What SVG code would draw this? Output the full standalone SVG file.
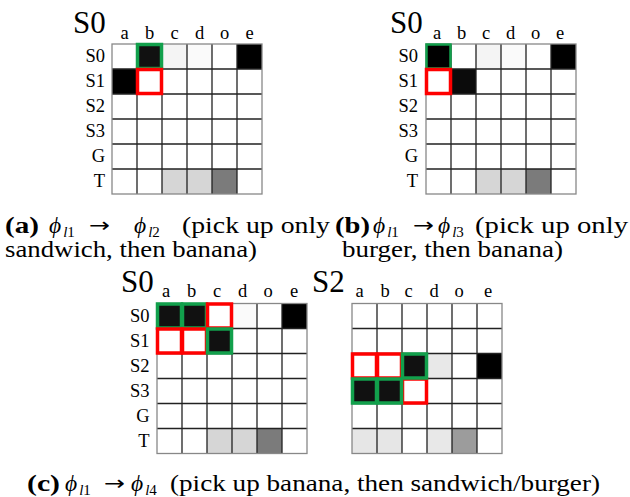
<svg xmlns="http://www.w3.org/2000/svg" xmlns:xlink="http://www.w3.org/1999/xlink" width="630" height="497" viewBox="0 0 630 497">
<style>
text{font-family:"Liberation Serif","DejaVu Serif","Times New Roman",serif;fill:#000}
.big{font-size:31px}
.col{font-size:18.5px;text-anchor:middle}
.row{font-size:18.5px;text-anchor:end}
.cap{font-size:23.5px}
.b{font-weight:bold}
.it{font-style:italic}
.sub{font-size:15px}
.arr{font-family:"DejaVu Sans",sans-serif;font-size:20px}
.gl{fill:none;stroke:#222;stroke-width:1.3}
.go{fill:none;stroke:#888;stroke-width:1.3}
.bg{fill:#fff}
.hg{fill:none;stroke:#12a04c;stroke-width:3.5}
.hr{fill:none;stroke:#ff0000;stroke-width:3.5}
</style>
<defs>
<g id="grid">
<path class="gl" d="M25 0V150M50 0V150M75 0V150M100 0V150M125 0V150M0 25H150M0 50H150M0 75H150M0 100H150M0 125H150"/>
<rect class="go" x="0" y="0" width="150" height="150"/>
</g>
</defs>
<rect width="630" height="497" fill="#fff"/>

<g id="panel-a">
<rect class="bg" x="112" y="44" width="150" height="150"/>
<rect x="137" y="44" width="25" height="25" fill="#111"/>
<rect x="162" y="44" width="25" height="25" fill="#f4f4f4"/>
<rect x="187" y="44" width="25" height="25" fill="#fafafa"/>
<rect x="237" y="44" width="25" height="25" fill="#000"/>
<rect x="112" y="69" width="25" height="25" fill="#000"/>
<rect x="162" y="169" width="25" height="25" fill="#d6d6d6"/>
<rect x="187" y="169" width="25" height="25" fill="#d6d6d6"/>
<rect x="212" y="169" width="25" height="25" fill="#7b7b7b"/>
<use xlink:href="#grid" x="112" y="44"/>
<rect class="hg" x="137.5" y="44.5" width="24" height="24"/>
<rect class="hr" x="137.5" y="69.5" width="24" height="24"/>
<text class="big" x="73" y="33">S0</text>
<text class="col" x="124.5" y="38.5">a</text>
<text class="col" x="149.5" y="38.5">b</text>
<text class="col" x="174.5" y="38.5">c</text>
<text class="col" x="199.5" y="38.5">d</text>
<text class="col" x="224.5" y="38.5">o</text>
<text class="col" x="249.5" y="38.5">e</text>
<text class="row" x="105" y="62">S0</text>
<text class="row" x="105" y="87">S1</text>
<text class="row" x="105" y="112">S2</text>
<text class="row" x="105" y="137">S3</text>
<text class="row" x="105" y="162">G</text>
<text class="row" x="105" y="187">T</text>
</g>

<g id="panel-b">
<rect class="bg" x="426" y="44" width="150" height="150"/>
<rect x="426" y="44" width="25" height="25" fill="#000"/>
<rect x="476" y="44" width="25" height="25" fill="#f4f4f4"/>
<rect x="501" y="44" width="25" height="25" fill="#fafafa"/>
<rect x="551" y="44" width="25" height="25" fill="#000"/>
<rect x="451" y="69" width="25" height="25" fill="#0b0b0b"/>
<rect x="476" y="169" width="25" height="25" fill="#d6d6d6"/>
<rect x="501" y="169" width="25" height="25" fill="#d6d6d6"/>
<rect x="526" y="169" width="25" height="25" fill="#7b7b7b"/>
<use xlink:href="#grid" x="426" y="44"/>
<rect class="hg" x="426.5" y="44.5" width="24" height="24" style="stroke-width:2.5"/>
<rect class="hr" x="426.5" y="69.5" width="24" height="24"/>
<text class="big" x="390" y="33">S0</text>
<text class="col" x="437" y="38.5">a</text>
<text class="col" x="461.5" y="38.5">b</text>
<text class="col" x="486" y="38.5">c</text>
<text class="col" x="510.5" y="38.5">d</text>
<text class="col" x="535.5" y="38.5">o</text>
<text class="col" x="560" y="38.5">e</text>
<text class="row" x="418" y="62">S0</text>
<text class="row" x="418" y="87">S1</text>
<text class="row" x="418" y="112">S2</text>
<text class="row" x="418" y="137">S3</text>
<text class="row" x="418" y="162">G</text>
<text class="row" x="418" y="187">T</text>
</g>

<g id="panel-c1">
<rect class="bg" x="157" y="303.5" width="150" height="150"/>
<rect x="157" y="303.5" width="25" height="25" fill="#111"/>
<rect x="182" y="303.5" width="25" height="25" fill="#111"/>
<rect x="232" y="303.5" width="25" height="25" fill="#fafafa"/>
<rect x="282" y="303.5" width="25" height="25" fill="#000"/>
<rect x="207" y="328.5" width="25" height="25" fill="#111"/>
<rect x="207" y="428.5" width="25" height="25" fill="#d6d6d6"/>
<rect x="232" y="428.5" width="25" height="25" fill="#d6d6d6"/>
<rect x="257" y="428.5" width="25" height="25" fill="#7b7b7b"/>
<use xlink:href="#grid" x="157" y="303.5"/>
<rect class="hg" x="157.5" y="304" width="24" height="24"/>
<rect class="hg" x="182.5" y="304" width="24" height="24"/>
<rect class="hr" x="207.5" y="304" width="24" height="24"/>
<rect class="hr" x="157.5" y="329" width="24" height="24"/>
<rect class="hr" x="182.5" y="329" width="24" height="24"/>
<rect class="hg" x="207.5" y="329" width="24" height="24"/>
<text class="big" x="121" y="292">S0</text>
<text class="col" x="166" y="297">a</text>
<text class="col" x="191.5" y="297">b</text>
<text class="col" x="217" y="297">c</text>
<text class="col" x="242.5" y="297">d</text>
<text class="col" x="268" y="297">o</text>
<text class="col" x="294" y="297">e</text>
<text class="row" x="149.5" y="321.5">S0</text>
<text class="row" x="149.5" y="346.5">S1</text>
<text class="row" x="149.5" y="371.5">S2</text>
<text class="row" x="149.5" y="396.5">S3</text>
<text class="row" x="149.5" y="421.5">G</text>
<text class="row" x="149.5" y="446.5">T</text>
</g>

<g id="panel-c2">
<rect class="bg" x="352" y="303.5" width="150" height="150"/>
<rect x="402" y="353.5" width="25" height="25" fill="#111"/>
<rect x="427" y="353.5" width="25" height="25" fill="#e8e8e8"/>
<rect x="477" y="353.5" width="25" height="25" fill="#000"/>
<rect x="352" y="378.5" width="25" height="25" fill="#111"/>
<rect x="377" y="378.5" width="25" height="25" fill="#111"/>
<rect x="352" y="428.5" width="25" height="25" fill="#e6e6e6"/>
<rect x="377" y="428.5" width="25" height="25" fill="#e6e6e6"/>
<rect x="427" y="428.5" width="25" height="25" fill="#e8e8e8"/>
<rect x="452" y="428.5" width="25" height="25" fill="#9c9c9c"/>
<use xlink:href="#grid" x="352" y="303.5"/>
<rect class="hr" x="352.5" y="354" width="24" height="24"/>
<rect class="hr" x="377.5" y="354" width="24" height="24"/>
<rect class="hr" x="402.5" y="379" width="24" height="24"/>
<rect class="hg" x="402.5" y="354" width="24" height="24"/>
<rect class="hg" x="352.5" y="379" width="24" height="24"/>
<rect class="hg" x="377.5" y="379" width="24" height="24"/>
<text class="big" x="312" y="292">S2</text>
<text class="col" x="359.5" y="297">a</text>
<text class="col" x="385" y="297">b</text>
<text class="col" x="408.5" y="297">c</text>
<text class="col" x="434" y="297">d</text>
<text class="col" x="459" y="297">o</text>
<text class="col" x="488" y="297">e</text>
</g>

<g id="captions">
<text class="cap b" x="5" y="233" textLength="34" lengthAdjust="spacingAndGlyphs">(a)</text>
<text class="cap" x="49" y="233"><tspan class="it">ϕ</tspan><tspan class="sub it" dx="2" dy="4">l</tspan><tspan class="sub">1</tspan></text>
<text class="arr" x="89" y="232" textLength="21" lengthAdjust="spacingAndGlyphs">→</text>
<text class="cap" x="134" y="233"><tspan class="it">ϕ</tspan><tspan class="sub it" dx="2" dy="4">l</tspan><tspan class="sub">2</tspan></text>
<text class="cap" x="182" y="233" textLength="148" lengthAdjust="spacingAndGlyphs">(pick up only</text>
<text class="cap" x="5" y="257" textLength="252" lengthAdjust="spacingAndGlyphs">sandwich, then banana)</text>

<text class="cap b" x="335" y="233" textLength="35" lengthAdjust="spacingAndGlyphs">(b)</text>
<text class="cap" x="373" y="233"><tspan class="it">ϕ</tspan><tspan class="sub it" dx="2" dy="4">l</tspan><tspan class="sub">1</tspan></text>
<text class="arr" x="413" y="232" textLength="21" lengthAdjust="spacingAndGlyphs">→</text>
<text class="cap" x="438" y="233"><tspan class="it">ϕ</tspan><tspan class="sub it" dx="2" dy="4">l</tspan><tspan class="sub">3</tspan></text>
<text class="cap" x="475" y="233" textLength="153" lengthAdjust="spacingAndGlyphs">(pick up only</text>
<text class="cap" x="342" y="257" textLength="221" lengthAdjust="spacingAndGlyphs">burger, then banana)</text>

<text class="cap b" x="27" y="491" textLength="33" lengthAdjust="spacingAndGlyphs">(c)</text>
<text class="cap" x="65" y="491"><tspan class="it">ϕ</tspan><tspan class="sub it" dx="2" dy="4">l</tspan><tspan class="sub">1</tspan></text>
<text class="arr" x="104" y="490" textLength="21" lengthAdjust="spacingAndGlyphs">→</text>
<text class="cap" x="131" y="491"><tspan class="it">ϕ</tspan><tspan class="sub it" dx="2" dy="4">l</tspan><tspan class="sub">4</tspan></text>
<text class="cap" x="170" y="491" textLength="430" lengthAdjust="spacingAndGlyphs">(pick up banana, then sandwich/burger)</text>
</g>
</svg>
